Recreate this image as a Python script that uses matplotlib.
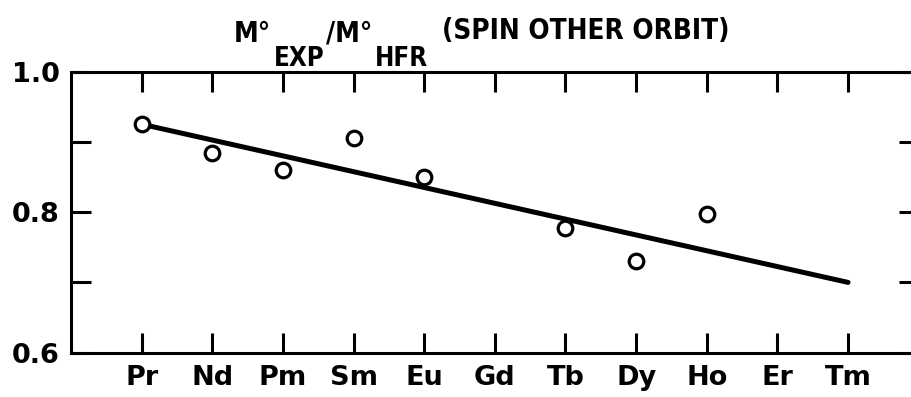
import numpy as np
import matplotlib
matplotlib.use("Agg")
import matplotlib.pyplot as plt

# rare-earth ions along the series
elements = ["Pr", "Nd", "Pm", "Sm", "Eu", "Gd", "Tb", "Dy", "Ho", "Er", "Tm"]

# measured ratios (open circles)
point_elements = ["Pr", "Nd", "Pm", "Sm", "Eu", "Tb", "Dy", "Ho"]
point_ratio = [0.925, 0.884, 0.860, 0.906, 0.850, 0.778, 0.731, 0.798]

# straight-line trend from Pr to Tm
trend_elements = ["Pr", "Tm"]
trend_ratio = [0.925, 0.700]

y_ticks = [0.6, 0.7, 0.8, 0.9, 1.0]
y_labels = ["0.6", "", "0.8", "", "1.0"]

W, H = 911, 397
fig = plt.figure(figsize=(W / 100, H / 100), dpi=100)
ax = fig.add_axes([71 / W, (H - 352.7) / H, (918.7 - 71) / W, (352.7 - 71.5) / H])

pos = {e: i for i, e in enumerate(elements)}
ax.plot([pos[e] for e in trend_elements], trend_ratio, color="black", lw=3.6,
        solid_capstyle="round", zorder=2)
ax.plot([pos[e] for e in point_elements], point_ratio, "o", ms=10.5,
        mfc="white", mec="black", mew=2.3, zorder=3)

ax.set_xlim(-1, len(elements))
ax.set_ylim(0.6, 1.0)
ax.set_xticks(range(len(elements)))
ax.set_xticklabels(elements)
ax.set_yticks(y_ticks)
ax.set_yticklabels(y_labels)

for s in ax.spines.values():
    s.set_linewidth(2.2)
ax.tick_params(direction="in", length=14.5, width=2.2, top=True, right=True,
               labelsize=19.5, pad=8)
ax.tick_params(axis="x", pad=9)
for lab in ax.get_xticklabels() + ax.get_yticklabels():
    lab.set_fontweight("bold")

# title with dropped subscripts, pieces chained left to right
big = dict(fontsize=20, fontweight="bold", fontstretch="condensed",
           color="black", va="baseline")
small = dict(big, fontsize=18.5)
pieces = [("M°", big, 42, 3), ("EXP", small, 66, 1), ("/M°", big, 42, 3),
          ("HFR", small, 66, 14), ("(SPIN OTHER ORBIT)", big, 39, 0)]
renderer = fig.canvas.get_renderer()
x = 234
for s, kw, base, gap in pieces:
    t = fig.text(x / W, 1 - base / H, s, **kw)
    x = t.get_window_extent(renderer).x1 + gap

fig.savefig("out.png", dpi=100)
